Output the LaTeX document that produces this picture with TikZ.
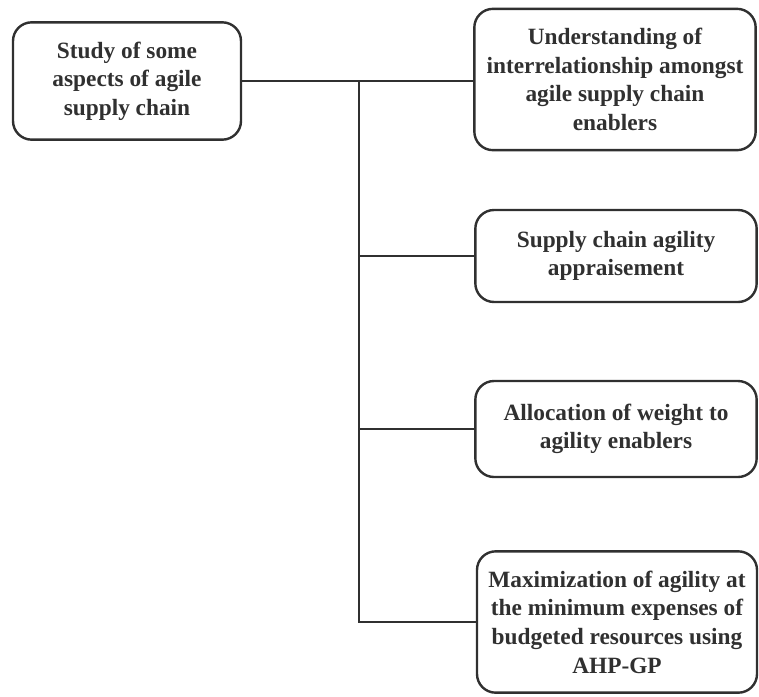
\documentclass[tikz,border=0pt]{standalone}
\usepackage{fontspec}
\setmainfont{Liberation Serif}
\usetikzlibrary{shapes}
\definecolor{dgrau}{HTML}{303030}

\begin{document}
\begin{tikzpicture}[x=0.75pt,y=-0.75pt,every node/.style={font=\fontsize{17.5}{21.5}\selectfont\bfseries,text=dgrau},line width=1.8pt,draw=dgrau]
        \useasboundingbox (0,0) rectangle (759,696);

        \node[draw=dgrau, rectangle, rounded corners=14pt, align=center, minimum width=171pt, minimum height=88pt] (S) at (127, 81) {Study of some\\aspects of agile\\supply chain};

        \node[draw=dgrau, rectangle, rounded corners=14pt, align=center, minimum width=211pt, minimum height=106pt] (U) at (615, 79.5) {Understanding of\\interrelationship amongst\\agile supply chain\\enablers};

        \node[draw=dgrau, rectangle, rounded corners=14pt, align=center, minimum width=211pt, minimum height=69pt] (A) at (616, 256) {Supply chain agility\\appraisement};

        \node[draw=dgrau, rectangle, rounded corners=14pt, align=center, minimum width=211pt, minimum height=72pt] (W) at (616, 429) {Allocation of weight to\\agility enablers};

        \node[draw=dgrau, rectangle, rounded corners=14pt, align=center, minimum width=210pt, minimum height=106pt] (M) at (617, 622) {Maximization of agility at\\the minimum expenses of\\budgeted resources using\\AHP-GP};

        \coordinate (T) at (359, 81);


        \path [draw=dgrau](S.east) -- (S.east -| U.west);
        
        \path [draw=dgrau](T) |- (M.west);
        \path [draw=dgrau](T |- A.west) -- (A.west);
        \path [draw=dgrau](T |- W.west) -- (W.west);

    \end{tikzpicture}
\end{document}
